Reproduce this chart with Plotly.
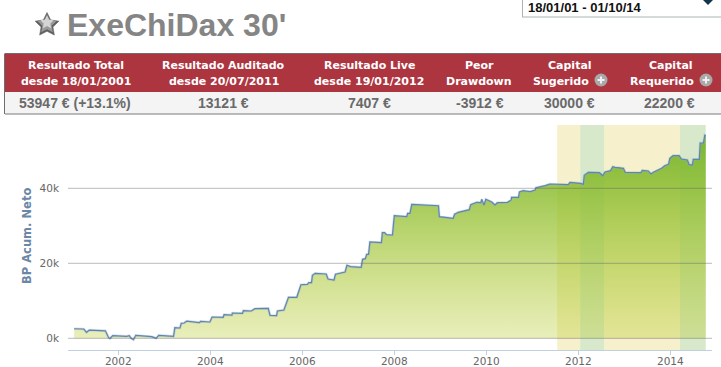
import plotly.graph_objects as go
import math

W, H = 721, 367

# ---- data ----
years = [2001.04,2001.25,2001.31,2001.37,2001.72,2001.79,2001.82,2001.88,2002.18,2002.24,2002.28,2002.33,2002.38,
 2002.73,2002.82,2002.88,2003.20,2003.23,2003.34,2003.37,2003.43,2003.49,2003.76,2003.79,2003.99,2004.04,2004.28,
 2004.30,2004.47,2004.48,2004.70,2004.72,2004.89,2004.97,2005.26,2005.30,2005.44,2005.46,2005.60,2005.63,2005.70,
 2005.88,2005.91,2005.97,2006.11,2006.14,2006.20,2006.22,2006.28,2006.52,2006.56,2006.69,2006.72,2006.82,2006.93,
 2006.97,2007.05,2007.28,2007.31,2007.37,2007.40,2007.44,2007.47,2007.72,2007.74,2007.79,2007.83,2007.96,2008.00,
 2008.27,2008.29,2008.34,2008.38,2008.96,2008.98,2009.28,2009.31,2009.39,2009.51,2009.56,2009.63,2009.66,2009.79,
 2009.88,2009.90,2009.95,2009.99,2010.12,2010.19,2010.24,2010.46,2010.54,2010.55,2010.70,2010.72,2010.80,2010.95,
 2011.06,2011.08,2011.28,2011.38,2011.78,2011.82,2012.04,2012.11,2012.13,2012.22,2012.46,2012.53,2012.58,2012.70,
 2012.75,2012.80,2012.98,2013.02,2013.36,2013.39,2013.52,2013.58,2013.63,2013.74,2013.81,2013.88,2013.96,2013.99,
 2014.06,2014.19,2014.24,2014.37,2014.41,2014.48,2014.50,2014.63,2014.65,2014.72,2014.75,2014.77]
net_profit = [2550,2480,1600,2200,2000,170,-50,700,530,700,0,-370,800,
 430,0,800,530,2830,2750,4000,4080,4600,4170,4530,4350,5680,5600,
 6300,6200,6750,6670,7370,7280,7900,8000,6130,6030,7280,7550,8610,10930,
 10930,12160,14290,14400,14830,14830,16800,17330,17150,15800,15550,17070,17330,17680,
 19470,19100,18930,21070,21230,22400,22400,25680,25500,28170,28170,27630,27550,32700,
 32430,33330,33330,35700,35360,32430,32000,33070,33600,33870,34130,34300,35630,36270,
 36160,37070,35550,37070,36350,35550,36160,36270,36880,37600,37600,39010,39360,39100,
 39550,40170,40700,41150,40960,41600,41330,41070,43470,44270,44160,43360,44350,44700,
 45760,45600,45330,44270,44160,44800,44620,43810,44270,44880,45330,46030,46400,48000,
 48700,48700,47810,47540,46300,46200,47730,47730,52080,52080,54130,53947]

x_ticks = [2002, 2004, 2006, 2008, 2010, 2012, 2014]
y_ticks = [0, 20000, 40000]
y_tick_labels = ["0k", "20k", "40k"]
live_periods = [(2012.04, 2012.56), (2014.21, 2014.77)]
audited_periods = [(2011.54, 2012.04), (2012.56, 2014.21)]

title = "ExeChiDax 30'"
date_range = "18/01/01 - 01/10/14"
header_lines = [("Resultado Total", "desde 18/01/2001"), ("Resultado Auditado", "desde 20/07/2011"),
                ("Resultado Live", "desde 19/01/2012"), ("Peor", "Drawdown"),
                ("Capital", "Sugerido"), ("Capital", "Requerido")]
values = ["53947 € (+13.1%)", "13121 €", "7407 €", "-3912 €", "30000 €", "22200 €"]

# ---- layout helpers (page pixels -> paper fractions) ----
px = lambda v: v / W
py = lambda v: 1 - v / H
DJ = "DejaVu Sans"
LS = "Liberation Sans"

def rect(x0, y0, x1, y1, fill, line=None):
    return dict(type="rect", xref="paper", yref="paper", x0=px(x0), x1=px(x1), y0=py(y0), y1=py(y1),
                fillcolor=fill, line=dict(width=0 if line is None else 1, color=line or fill), layer="below")

def hline(x0, x1, y, color):
    return dict(type="line", xref="paper", yref="paper", x0=px(x0), x1=px(x1), y0=py(y), y1=py(y),
                line=dict(width=1, color=color), layer="below")

def star_path(cx, cy, r):
    pts = []
    for i in range(10):
        rr = r if i % 2 == 0 else r * 0.5
        a = -math.pi / 2 + i * math.pi / 5
        pts.append((px(cx + rr * math.cos(a)), py(cy + rr * math.sin(a))))
    return "M" + "L".join(f"{a:.5f},{b:.5f}" for a, b in pts) + "Z"

def text(x, y, s, size, color, font=LS, bold=False, anchor="center"):
    return dict(xref="paper", yref="paper", x=px(x), y=py(y), text=f"<b>{s}</b>" if bold else s,
                showarrow=False, xanchor=anchor, yanchor="middle",
                font=dict(family=font, size=size, color=color), borderpad=0, borderwidth=0)

fig = go.Figure()
fig.add_trace(go.Scatter(
    x=years, y=net_profit, mode="lines", fill="tozeroy",
    line=dict(color="rgba(150,172,205,0.4)", width=2.6),
    fillgradient=dict(type="vertical",
                      colorscale=[[0, "rgba(182,201,32,0.3)"], [1, "rgba(120,182,47,1)"]]),
    hoverinfo="skip", showlegend=False))
fig.add_trace(go.Scatter(
    x=years, y=net_profit, mode="lines",
    line=dict(color="#5f86ad", width=1.2),
    hoverinfo="skip", showlegend=False))

shapes = [
    rect(5, 53.5, 721, 92, "#ad3540"),
    rect(5, 92, 721, 114, "#f4f4f4"),
    hline(5, 721, 53.5, "#6e6e6e"),
    hline(5, 721, 114, "#7a7a7a"),
    dict(type="line", xref="paper", yref="paper", x0=px(4.5), x1=px(4.5), y0=py(53.5), y1=py(114),
         line=dict(width=1, color="#6e6e6e"), layer="below"),
    # date box
    hline(522, 721, 17, "#a9b3b3"),
    dict(type="line", xref="paper", yref="paper", x0=px(522.5), x1=px(522.5), y0=py(0), y1=py(17),
         line=dict(width=1, color="#a9b3b3"), layer="below"),
    dict(type="path", xref="paper", yref="paper",
         path=f"M{px(703)},{py(0)}L{px(713)},{py(0)}L{px(708)},{py(5)}Z",
         fillcolor="#12344d", line=dict(width=0)),
    # star
    dict(type="path", xref="paper", yref="paper", path=star_path(47, 25, 12.5),
         fillcolor="#5f5f5f", line=dict(width=0.6, color="#6a6a6a")),
    dict(type="path", xref="paper", yref="paper", path=star_path(47, 24.3, 9.8),
         fillcolor="#9a9a9a", line=dict(width=0)),
    dict(type="path", xref="paper", yref="paper", path=star_path(47, 22.5, 7),
         fillcolor="#d4d4d4", line=dict(width=0)),
]
# plus icons
for cx in (601, 706):
    shapes.append(dict(type="circle", xref="paper", yref="paper", x0=px(cx - 6.5), x1=px(cx + 6.5),
                       y0=py(86.5), y1=py(73.5), fillcolor="#a9a9a9", line=dict(width=0)))
    shapes.append(hline(cx - 3.5, cx + 3.5, 80, "#f0f0f0") | {"layer": "above", "line": dict(width=2, color="#f0f0f0")})
    shapes.append(dict(type="line", xref="paper", yref="paper", x0=px(cx), x1=px(cx), y0=py(76.5), y1=py(83.5),
                       line=dict(width=2, color="#f0f0f0")))
# period bands, behind the translucent fill
for a, b in audited_periods:
    shapes.append(dict(type="rect", xref="x", yref="y domain", x0=a, x1=b, y0=0, y1=1,
                       fillcolor="#f6f1cc", line=dict(width=0), layer="below"))
for a, b in live_periods:
    shapes.append(dict(type="rect", xref="x", yref="y domain", x0=a, x1=b, y0=0, y1=1,
                       fillcolor="#d7e8cb", line=dict(width=0), layer="below"))
# gridlines drawn over the fill, as in the reference
for v in y_ticks:
    shapes.append(dict(type="line", xref="x domain", yref="y", x0=0, x1=1, y0=v, y1=v,
                       line=dict(width=1, color="rgba(90,90,90,0.42)"), layer="above"))

head_x = [(75.7, 75.7), (224, 224), (369, 369), (479, 479), (570, 561), (670.5, 662)]
val_x = [75, 224, 369, 479.5, 569, 669.5]
ann = [
    text(67, 25, title, 32, "#858585", bold=True, anchor="left"),
    text(528, 7.5, date_range, 13, "#111111", bold=True, anchor="left"),
    text(27, 236, "BP Acum. Neto", 11.5, "#6c87a5", font=DJ, bold=True) | {"textangle": -90},
]
for (l1, l2), (x1, x2) in zip(header_lines, head_x):
    ann.append(text(x1, 65.5, l1, 11, "white", font=DJ, bold=True))
    ann.append(text(x2, 81, l2, 11, "white", font=DJ, bold=True))
for s, x in zip(values, val_x):
    ann.append(text(x, 103, s, 14, "#6a6a6a", bold=True))

fig.update_layout(
    width=W, height=H, autosize=False,
    margin=dict(l=0, r=0, t=0, b=0),
    paper_bgcolor="white", plot_bgcolor="white",
    shapes=shapes, annotations=ann,
    xaxis=dict(domain=[px(68), px(712)], range=[2000.907, 2014.906], automargin=False,
               tickmode="array", tickvals=x_ticks, ticktext=[str(t) for t in x_ticks],
               showgrid=False, zeroline=False, showline=True, linecolor="#c0d0e0", linewidth=1,
               ticks="outside", ticklen=4, tickcolor="#c0d0e0", tickwidth=1, ticklabelstandoff=-3,
               tickfont=dict(family=DJ, size=10.5, color="#666666")),
    yaxis=dict(domain=[py(350), py(125)], range=[-3120, 56880], automargin=False,
               tickmode="array", tickvals=y_ticks, ticktext=y_tick_labels,
               showgrid=False, zeroline=False, showline=False, ticks="",
               ticklabelstandoff=8,
               tickfont=dict(family=DJ, size=10.5, color="#666666")),
)
fig.write_html("out.html", config=dict(displayModeBar=False),
               post_script="document.body.style.margin='0';document.documentElement.style.overflow='hidden';")
